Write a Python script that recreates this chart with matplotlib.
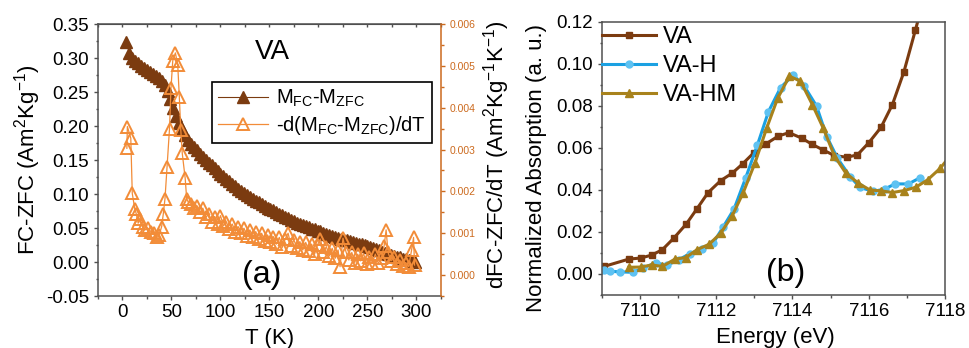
import matplotlib.pyplot as plt
from matplotlib.ticker import MultipleLocator, FormatStrFormatter, NullFormatter

plt.rcParams['font.family'] = ['Liberation Sans', 'DejaVu Sans']
plt.rcParams['mathtext.fontset'] = 'custom'
plt.rcParams['mathtext.rm'] = 'Liberation Sans'
plt.rcParams['mathtext.it'] = 'Liberation Sans:italic'
plt.rcParams['mathtext.bf'] = 'Liberation Sans:bold'
plt.rcParams['axes.unicode_minus'] = False

# (a) M_FC - M_ZFC against temperature
T_m = [4, 7, 10, 13, 16, 19, 22, 25, 28, 31, 34, 37, 40, 43, 46, 49, 52, 55, 58, 61,
       64, 67, 70, 73, 76, 79, 82, 85, 88, 91, 94, 97, 100, 103, 106, 109, 112, 115,
       118, 121, 124, 127, 130, 133, 136, 139, 142, 145, 148, 151, 154, 157, 160,
       163, 166, 169, 172, 175, 178, 181, 184, 187, 190, 193, 196, 199, 202, 205,
       208, 211, 214, 217, 220, 223, 226, 229, 232, 235, 238, 241, 244, 247, 250,
       253, 256, 259, 262, 265, 268, 271, 274, 277, 280, 283, 286, 289, 292, 295, 298]
M_diff = [0.324, 0.307, 0.300, 0.296, 0.292, 0.288, 0.285, 0.282, 0.279, 0.276,
          0.273, 0.270, 0.266, 0.261, 0.252, 0.239, 0.227, 0.214, 0.204, 0.195,
          0.187, 0.180, 0.174, 0.169, 0.164, 0.159, 0.154, 0.150, 0.146, 0.142,
          0.138, 0.134, 0.130, 0.126, 0.122, 0.119, 0.115, 0.112, 0.108, 0.105,
          0.102, 0.099, 0.096, 0.093, 0.090, 0.088, 0.085, 0.083, 0.080, 0.078,
          0.076, 0.073, 0.071, 0.069, 0.066, 0.064, 0.062, 0.060, 0.058, 0.056,
          0.055, 0.053, 0.051, 0.049, 0.048, 0.046, 0.045, 0.043, 0.041, 0.040,
          0.038, 0.037, 0.036, 0.034, 0.033, 0.032, 0.031, 0.030, 0.028, 0.027,
          0.026, 0.025, 0.024, 0.022, 0.021, 0.019, 0.017, 0.015, 0.013, 0.012,
          0.010, 0.009, 0.008, 0.007, 0.005, 0.004, 0.003, 0.002, 0.000]

# -d(M_FC - M_ZFC)/dT, right axis
T_d = [4.5, 5, 8.5, 10, 12.5, 14, 16, 18, 20.5, 23,
       26, 29, 32, 35, 37.5, 40, 41.7, 43.4, 45.5, 48,
       49.5, 51.3, 54, 56.4, 58, 59.5, 61, 64, 65.5, 67,
       70, 73, 76, 79, 82, 85, 88, 91, 94, 97,
       100, 103, 106, 109, 112, 115, 118, 121, 124, 127,
       130, 133, 136, 139, 142, 145, 148, 151, 154, 157,
       160, 163, 166, 169, 172, 175, 178, 181, 184, 187,
       190, 193, 196, 199, 202, 205, 208, 211, 214, 217,
       220, 222, 225, 228, 231, 234, 237, 240, 243, 246,
       249, 252, 255, 258, 261, 264, 267, 269, 271, 274,
       277, 280, 283, 286, 289, 292, 295, 297, 298]
dM_dT = [0.00303, 0.00355, 0.00327, 0.00195, 0.00159, 0.00147, 0.00124, 0.00135, 0.00116, 0.00108,
         0.00112, 0.00104, 0.00100, 0.00092, 0.00096, 0.00116, 0.00147, 0.00183, 0.00259, 0.00350,
         0.00446, 0.00512, 0.00531, 0.00502, 0.00426, 0.00347, 0.00291, 0.00231, 0.00183, 0.00175,
         0.00171, 0.00160, 0.00166, 0.00150, 0.00160, 0.00138, 0.00146, 0.00128, 0.00140, 0.00122,
         0.00142, 0.00118, 0.00126, 0.00110, 0.00122, 0.00104, 0.00116, 0.00100, 0.00112, 0.00094,
         0.00108, 0.00090, 0.00104, 0.00086, 0.00100, 0.00082, 0.00096, 0.00080, 0.00092, 0.00074,
         0.00090, 0.00066, 0.00086, 0.00100, 0.00070, 0.00084, 0.00064, 0.00080, 0.00060, 0.00078,
         0.00058, 0.00074, 0.00050, 0.00072, 0.00086, 0.00054, 0.00068, 0.00046, 0.00064, 0.00040,
         0.00060, 0.00020, 0.00088, 0.00056, 0.00036, 0.00054, 0.00030, 0.00050, 0.00034, 0.00052,
         0.00026, 0.00044, 0.00030, 0.00050, 0.00028, 0.00040, 0.00070, 0.00108, 0.00054, 0.00034,
         0.00044, 0.00026, 0.00036, 0.00022, 0.00030, 0.00020, 0.00060, 0.00090, 0.00024]

# (b) pre-edge absorption
E_va = [7109.06, 7109.71, 7110.02, 7110.31, 7110.59, 7110.89, 7111.22, 7111.49,
        7111.79, 7112.12, 7112.42, 7112.69, 7112.99, 7113.30, 7113.63, 7113.91,
        7114.24, 7114.52, 7114.81, 7115.10, 7115.42, 7115.70, 7116.00, 7116.32,
        7116.62, 7116.92, 7117.22, 7117.52]
A_va = [0.0036, 0.0071, 0.0076, 0.0090, 0.0116, 0.0171, 0.0239, 0.0309,
        0.0388, 0.0445, 0.0480, 0.0524, 0.0578, 0.0619, 0.0657, 0.0673,
        0.0647, 0.0617, 0.0590, 0.0564, 0.0556, 0.0567, 0.0625, 0.0698,
        0.0807, 0.0962, 0.1160, 0.1360]

E_h = [7109.06, 7109.21, 7109.49, 7109.81, 7110.09, 7110.41, 7110.70, 7111.02,
       7111.31, 7111.62, 7111.92, 7112.19, 7112.47, 7112.77, 7113.08, 7113.37,
       7113.69, 7114.02, 7114.31, 7114.63, 7114.90, 7115.18, 7115.51, 7115.77,
       7116.12, 7116.42, 7116.69, 7117.04, 7117.33]
A_h = [0.0017, 0.0013, 0.0010, 0.0008, 0.0028, 0.0054, 0.0041, 0.0068,
       0.0097, 0.0119, 0.0147, 0.0226, 0.0310, 0.0456, 0.0614, 0.0773,
       0.0888, 0.0947, 0.0894, 0.0800, 0.0654, 0.0551, 0.0464, 0.0412,
       0.0393, 0.0405, 0.0429, 0.0429, 0.0457]

E_hm = [7109.71, 7110.02, 7110.31, 7110.59, 7110.92, 7111.20, 7111.50, 7111.82,
        7112.12, 7112.42, 7112.71, 7113.02, 7113.32, 7113.61, 7113.92, 7114.21,
        7114.52, 7114.81, 7115.10, 7115.40, 7115.73, 7116.03, 7116.32, 7116.62,
        7116.92, 7117.23, 7117.54, 7117.87, 7118.17]
A_hm = [0.0032, 0.0033, 0.0043, 0.0036, 0.0071, 0.0078, 0.0116, 0.0142,
        0.0195, 0.0277, 0.0388, 0.0530, 0.0693, 0.0836, 0.0942, 0.0918,
        0.0807, 0.0693, 0.0562, 0.0480, 0.0432, 0.0400, 0.0396, 0.0388,
        0.0397, 0.0413, 0.0448, 0.0503, 0.0570]

brown = '#7B3B10'
orange = '#F28C38'
orange_axis = '#CC6A1E'
blue = '#1BA1E2'
blue_marker = '#5EC2F2'
olive = '#A8821C'
gray = '#505050'

fig = plt.figure(figsize=(9.69, 3.48), dpi=100)

# ---- panel (a) ----
ax1 = fig.add_axes([0.1011, 0.1494, 0.354, 0.7816])
ax2 = ax1.twinx()

l1, = ax1.plot(T_m, M_diff, '-^', color=brown, lw=0.8, ms=8,
               label='M$_\\mathrm{FC}$-M$_\\mathrm{ZFC}$')
l2, = ax2.plot(T_d, dM_dT, '-^', color=orange, lw=0.9, ms=8, mfc='none', mew=1.4,
               label='-d(M$_\\mathrm{FC}$-M$_\\mathrm{ZFC}$)/dT')

ax1.set_xlim(-25, 325)
ax1.set_ylim(-0.05, 0.35)
ax2.set_ylim(-0.0005, 0.006)

ax1.xaxis.set_major_locator(MultipleLocator(50))
ax1.xaxis.set_minor_locator(MultipleLocator(25))
ax1.yaxis.set_major_locator(MultipleLocator(0.05))
ax1.yaxis.set_minor_locator(MultipleLocator(0.025))
ax1.yaxis.set_major_formatter(FormatStrFormatter('%.2f'))
ax2.yaxis.set_major_locator(MultipleLocator(0.001))
ax2.yaxis.set_minor_locator(MultipleLocator(0.0005))
ax2.yaxis.set_major_formatter(FormatStrFormatter('%.3f'))

ax1.tick_params(which='both', direction='out', color=gray, width=1, labelsize=13.5, right=False)
ax1.tick_params(which='major', length=2.8, pad=3.5)
ax1.tick_params(which='minor', length=1.8)
ax1.tick_params(axis='x', pad=3.3)
ax2.tick_params(axis='y', which='both', colors=orange_axis, width=1, labelsize=7.5)
ax2.tick_params(axis='y', which='major', length=3, pad=3)
ax2.tick_params(axis='y', which='minor', length=2)

# small inward ticks along the top edge
top = ax1.secondary_xaxis('top')
top.xaxis.set_major_locator(MultipleLocator(25))
top.xaxis.set_major_formatter(NullFormatter())
top.tick_params(direction='in', length=2.5, width=1, color=gray)
top.spines['top'].set_color(gray)

for s in ['left', 'bottom', 'top']:
    ax1.spines[s].set_color(gray)
    ax1.spines[s].set_linewidth(1.1)
    ax2.spines[s].set_visible(False)
ax1.spines['right'].set_visible(False)
ax2.spines['right'].set_color(orange_axis)
ax2.spines['right'].set_linewidth(1.1)

ax1.set_ylabel('FC-ZFC (Am$^2$Kg$^{-1}$)', fontsize=16)
ax1.yaxis.label.set_va('center')
ax1.yaxis.set_label_coords(-0.205, 0.5)
ax2.set_ylabel('dFC-ZFC/dT (Am$^2$Kg$^{-1}$K$^{-1}$)', fontsize=16)
ax2.yaxis.label.set_va('center')
ax2.yaxis.set_label_coords(1.163, 0.518)
ax1.set_xlabel('T (K)', fontsize=16)
ax1.xaxis.set_label_coords(0.499, -0.116)

ax1.text(0.507, 0.897, 'VA', transform=ax1.transAxes, ha='center', va='center', fontsize=20)
ax1.text(0.478, 0.077, '(a)', transform=ax1.transAxes, ha='center', va='center', fontsize=23)

leg = ax2.legend([l1, l2], [l1.get_label(), l2.get_label()], loc='upper left',
                 bbox_to_anchor=(0.332, 0.787), borderaxespad=0, fontsize=14.5,
                 fancybox=False, edgecolor='black', framealpha=1,
                 handlelength=2.5, handletextpad=0.4, labelspacing=0.25, borderpad=0.3)
leg.get_frame().set_linewidth(1.2)

# ---- panel (b) ----
ax3 = fig.add_axes([0.621, 0.1523, 0.3543, 0.7845])
ax3.plot(E_va, A_va, '-s', color=brown, lw=2.2, ms=5, label='VA')
ax3.plot(E_h, A_h, '-o', color=blue, lw=2.2, ms=5, mfc=blue_marker, mec=blue_marker, label='VA-H')
ax3.plot(E_hm, A_hm, '-^', color=olive, lw=2.2, ms=5.5, label='VA-HM')

ax3.set_xlim(7109, 7118)
ax3.set_ylim(-0.01, 0.12)
ax3.xaxis.set_major_locator(MultipleLocator(2))
ax3.xaxis.set_minor_locator(MultipleLocator(1))
ax3.xaxis.set_major_formatter(FormatStrFormatter('%d'))
ax3.yaxis.set_major_locator(MultipleLocator(0.02))
ax3.yaxis.set_minor_locator(MultipleLocator(0.01))
ax3.yaxis.set_major_formatter(FormatStrFormatter('%.2f'))
ax3.tick_params(which='both', direction='out', color=gray, width=1, labelsize=13.5)
ax3.tick_params(which='major', length=2.8, pad=3.5)
ax3.tick_params(which='minor', length=1.8)
ax3.tick_params(axis='x', pad=3.3)
for s in ax3.spines.values():
    s.set_color(gray)
    s.set_linewidth(1.1)

ax3.set_ylabel('Normalized Absorption (a. u.)', fontsize=16)
ax3.yaxis.label.set_va('center')
ax3.yaxis.set_label_coords(-0.191, 0.465)
ax3.set_xlabel('Energy (eV)', fontsize=16)
ax3.xaxis.set_label_coords(0.506, -0.118)
ax3.text(0.537, 0.08, '(b)', transform=ax3.transAxes, ha='center', va='center', fontsize=23)

ax3.legend(loc='upper left', bbox_to_anchor=(0, 0.985), frameon=False, fontsize=17,
           handlelength=2.3, handletextpad=0.3, labelspacing=0.3, borderpad=0, borderaxespad=0)

fig.savefig('out.png', dpi=100)
